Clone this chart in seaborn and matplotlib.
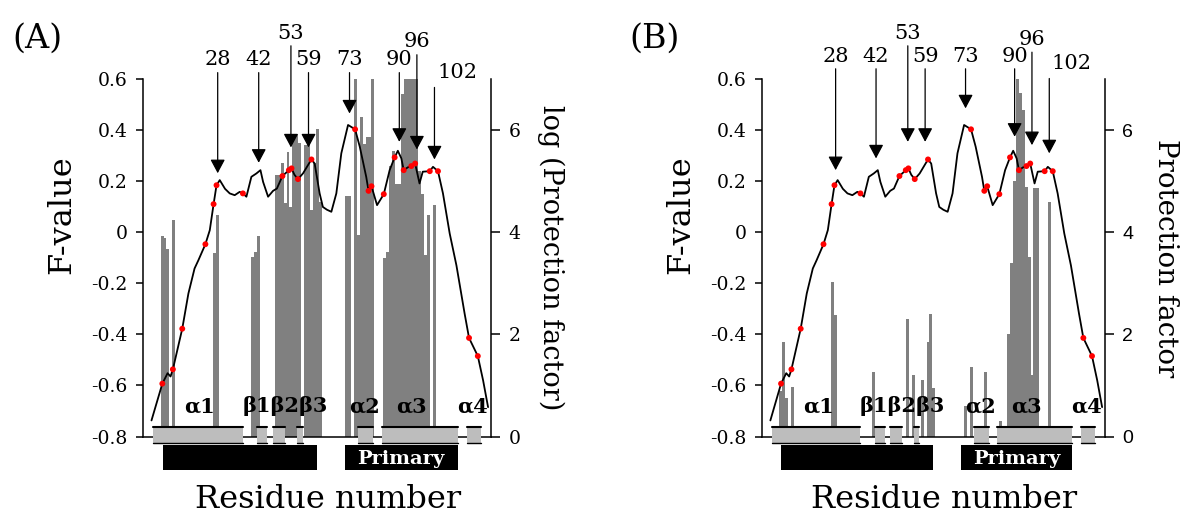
import matplotlib
matplotlib.use("Agg")
import matplotlib.pyplot as plt
import seaborn as sns
import pandas as pd
from matplotlib.patches import Rectangle

# ---------------- data ----------------
curve_res = [5.4, 9.1, 10.9, 11.9, 12.7, 15.9, 18.0, 20.1, 21.4, 23.8, 25.3, 26.6, 27.6, 28.7,
             30.5, 32.1, 33.8, 35.5, 36.6, 37.8, 39.5, 41.2, 42.6, 43.5, 45.2, 46.9, 48.2,
             50.1, 52.3, 53.2, 54.2, 55.4, 57.1, 60.0, 61.1, 62.8, 63.9, 65.3, 66.8, 68.5,
             70.2, 72.5, 74.9, 76.5, 78.7, 79.5, 80.5, 82.4, 84.7, 86.7, 88.4, 89.5, 90.7,
             91.5, 92.9, 94.1, 95.4, 96.9, 98.0, 100.4, 101.5, 103.2, 104.9, 107.2, 109.5,
             112.3, 113.8, 116.8, 118.6, 120.3]
curve_f = [-0.737, -0.593, -0.552, -0.565, -0.537, -0.378, -0.240, -0.142, -0.110, -0.047, 0.008,
           0.110, 0.184, 0.204, 0.170, 0.152, 0.145, 0.158, 0.152, 0.139, 0.217, 0.230, 0.243,
           0.197, 0.139, 0.162, 0.171, 0.220, 0.243, 0.250, 0.225, 0.208, 0.230, 0.285, 0.269,
           0.152, 0.099, 0.088, 0.080, 0.152, 0.309, 0.420, 0.403, 0.335, 0.217, 0.162, 0.180,
           0.106, 0.149, 0.243, 0.293, 0.319, 0.289, 0.243, 0.254, 0.259, 0.269, 0.191, 0.237,
           0.239, 0.256, 0.239, 0.152, -0.005, -0.130, -0.319, -0.414, -0.485, -0.580, -0.685]

dot_res = [9.1, 12.7, 15.9, 23.8, 26.6, 27.6, 36.6, 50.1, 52.3, 53.2, 55.4, 60.0, 74.9, 79.5,
           80.5, 84.7, 88.4, 91.5, 94.1, 95.4, 100.4, 103.2, 113.8, 116.8]
dot_f = [-0.593, -0.537, -0.378, -0.047, 0.110, 0.184, 0.152, 0.220, 0.243, 0.250, 0.208, 0.285,
         0.403, 0.162, 0.180, 0.149, 0.293, 0.243, 0.259, 0.269, 0.239, 0.239, -0.414, -0.485]

# protection factors (panel A: log scale, panel B: linear)
pf_a_res = [9, 10, 11, 13, 27, 28, 40, 41, 42, 48, 49, 50, 51, 52, 53, 54, 55, 56, 58, 59, 60,
            61, 62, 63, 72, 73, 75, 76, 77, 78, 79, 80, 81, 85, 86, 87, 88, 89, 90, 91, 92, 93,
            94, 95, 96, 97, 98, 99, 100, 102]
pf_a_val = [3.93, 3.88, 3.68, 4.24, 3.60, 4.33, 3.52, 3.62, 3.92, 5.12, 5.12, 5.35, 4.57, 5.57,
            4.50, 5.93, 5.93, 5.75, 5.70, 5.75, 4.43, 5.35, 6.03, 4.60, 4.71, 4.71, 7.0, 3.95,
            6.25, 5.73, 5.86, 5.86, 7.0, 3.49, 3.61, 5.30, 5.60, 4.94, 4.94, 6.70, 7.0, 7.0,
            7.0, 7.0, 7.0, 5.20, 4.75, 3.55, 4.33, 4.53]
pf_b_res = [9, 10, 11, 13, 27, 28, 41, 53, 55, 58, 60, 61, 62, 73, 75, 80, 85, 88, 89, 90, 91,
            92, 93, 94, 95, 96, 97, 98, 102]
pf_b_val = [0.90, 1.85, 0.75, 0.97, 3.03, 2.37, 1.26, 2.31, 1.20, 1.10, 1.85, 2.40, 0.95, 0.60,
            1.36, 1.26, 0.30, 2.00, 3.39, 5.00, 7.0, 6.72, 6.39, 4.89, 3.52, 1.20, 4.86, 4.86, 4.60]

arrow_res = [28, 42, 53, 59, 73, 90, 96, 102]
arrow_tip_a = [0.231, 0.272, 0.332, 0.332, 0.465, 0.354, 0.324, 0.285]
arrow_tip_b = [0.243, 0.289, 0.354, 0.354, 0.485, 0.374, 0.341, 0.309]

ss_start = [6, 41.5, 47, 55, 76, 84, 113]
ss_end = [36.5, 45, 51, 57, 81, 110, 118]
ss_text = ["α1", "β1β2β3", "α2", "α3", "α4"]
ss_text_res = [21.9, 51.2, 78.2, 94.2, 115.0]
region_start = [9.2, 71.3]
region_end = [61.8, 110.0]
region_text = ["", "Primary"]

f_ticks = [-0.8, -0.6, -0.4, -0.2, 0, 0.2, 0.4, 0.6]
f_tick_labels = ["-0.8", "-0.6", "-0.4", "-0.2", "0", "0.2", "0.4", "0.6"]
pf_ticks = [0, 2, 4, 6]

# ---------------- layout / style ----------------
sns.set_style("white")
SERIF = "DejaVu Serif"
plt.rcParams["font.family"] = [SERIF, "DejaVu Sans"]
plt.rcParams["axes.linewidth"] = 1.1
plt.rcParams["axes.edgecolor"] = "black"
plt.rcParams["text.color"] = "black"
plt.rcParams["axes.labelcolor"] = "black"
plt.rcParams["xtick.color"] = "black"
plt.rcParams["ytick.color"] = "black"

W, H = 1185, 519
fig = plt.figure(figsize=(W / 100, H / 100), dpi=100)

def frac_x(px):
    return px / W

def frac_h(px):
    return px / H

ax_top, ax_bot = 79, 436.5
# label heights (F units) for each arrow in panels
lab_a = [0.675, 0.675, 0.78, 0.675, 0.675, 0.675, 0.745, 0.627]
lab_b = [0.690, 0.690, 0.78, 0.690, 0.690, 0.690, 0.755, 0.662]

def panel(left_px, right_px, pf_res, pf_val, tips, labs, rlabel, rsize, letter, letter_x,
          rtick_font, rtick_size):
    ax = fig.add_axes([frac_x(left_px), 1 - frac_h(ax_bot), frac_x(right_px - left_px),
                       frac_h(ax_bot - ax_top)])
    ax2 = ax.twinx()
    df = pd.DataFrame({"res": pf_res, "pf": pf_val})
    sns.barplot(data=df, x="res", y="pf", native_scale=True, width=1.0, color="#808080",
                saturation=1, errorbar=None, ax=ax2, edgecolor="none", linewidth=0)
    ax2.set_ylim(0, 7)
    ax2.set_xlim(2.5, 121.3)
    ax.set_xlim(2.5, 121.3)
    ax.set_ylim(-0.8, 0.6)
    ax.set_zorder(ax2.get_zorder() + 1)
    ax.patch.set_visible(False)

    cdf = pd.DataFrame({"res": curve_res, "F": curve_f})
    sns.lineplot(data=cdf, x="res", y="F", color="black", lw=1.3, ax=ax, sort=True,
                 estimator=None, zorder=3)
    ddf = pd.DataFrame({"res": dot_res, "F": dot_f})
    sns.scatterplot(data=ddf, x="res", y="F", color="#ff0000", s=18, edgecolor="none",
                    ax=ax, zorder=4)

    # spines / ticks
    ax.spines["top"].set_visible(False)
    ax.spines["right"].set_visible(False)
    ax2.spines["top"].set_visible(False)
    ax2.spines["left"].set_visible(False)
    ax2.spines["bottom"].set_visible(False)
    ax.set_xticks([])
    ax.set_xlabel("")
    ax.set_ylabel("")
    ax2.set_xlabel("")
    ax2.set_ylabel("")
    ax.set_yticks(f_ticks)
    ax.set_yticklabels(f_tick_labels, fontsize=13.5, family=SERIF)
    ax.tick_params(axis="y", direction="out", length=5, width=1.1, pad=6, left=True,
                   colors="black")
    ax2.set_yticks(pf_ticks)
    ax2.set_yticklabels([str(t) for t in pf_ticks], fontsize=rtick_size, family=rtick_font)
    ax2.tick_params(axis="y", direction="out", length=6.5, width=1.1, pad=6, right=True,
                    colors="black")
    ax2.tick_params(axis="x", bottom=False, labelbottom=False)

    # arrows and labels
    for r, tip, lf in zip(arrow_res, tips, labs):
        if r == 102:
            ax.text(r + 0.9, lf, str(r), ha="left", va="center", fontsize=15, family=SERIF)
            top = lf - 0.06
        else:
            ax.text(r, lf, str(r), ha="center", va="center", fontsize=15, family=SERIF)
            top = lf - 0.05
        ax.annotate("", xy=(r, tip), xytext=(r, top), annotation_clip=False,
                    arrowprops=dict(arrowstyle="-|>,head_length=0.6,head_width=0.32",
                                    mutation_scale=14, color="black", lw=0.9,
                                    shrinkA=0, shrinkB=0), zorder=5)

    # secondary structure boxes
    for s, e in zip(ss_start, ss_end):
        ax.add_patch(Rectangle((s, -0.826), e - s, 0.063, facecolor="#bdbdbd",
                               edgecolor="none", clip_on=False, zorder=3))
        ax.plot([s, e], [-0.7635, -0.7635], color="black", lw=1.5, clip_on=False, zorder=3.5)
        ax.plot([s, e], [-0.8245, -0.8245], color="black", lw=1.0, clip_on=False, zorder=3.5)
    for t, r in zip(ss_text, ss_text_res):
        ax.text(r, -0.682, t, ha="center", va="center", fontsize=15, fontweight="bold",
                family=SERIF, zorder=5)
    for s, e, t in zip(region_start, region_end, region_text):
        ax.add_patch(Rectangle((s, -0.933), e - s, 0.101, facecolor="black",
                               edgecolor="none", clip_on=False, zorder=3))
        if t:
            ax.text((s + e) / 2, -0.888, t, ha="center", va="center", color="white",
                    fontsize=14, fontweight="bold", family=SERIF, zorder=5)

    # axis titles
    wpx = right_px - left_px
    hpx = ax_bot - ax_top
    ax.text(-81 / wpx, (ax_bot - 215) / hpx, "F-value", rotation=90, ha="center",
            va="center", fontsize=23, family=SERIF, transform=ax.transAxes)
    ax.text(0.532, (ax_bot - 500) / hpx, "Residue number", ha="center", va="center",
            fontsize=23, family=SERIF, transform=ax.transAxes)
    ax.text(1 + 60 / wpx, 0.5, rlabel, rotation=270, ha="center", va="center",
            fontsize=rsize, family=SERIF, transform=ax.transAxes)
    fig.text(frac_x(letter_x), 1 - frac_h(39), letter, ha="center", va="center",
             fontsize=24, family=SERIF)
    return ax

panel(143, 491, pf_a_res, pf_a_val, arrow_tip_a, lab_a, "log (Protection factor)", 19.5,
      "(A)", 37, SERIF, 13.5)
panel(762, 1105, pf_b_res, pf_b_val, arrow_tip_b, lab_b, "Protection factor", 20,
      "(B)", 655, "Liberation Sans", 14)

fig.savefig("out.png", dpi=100)
